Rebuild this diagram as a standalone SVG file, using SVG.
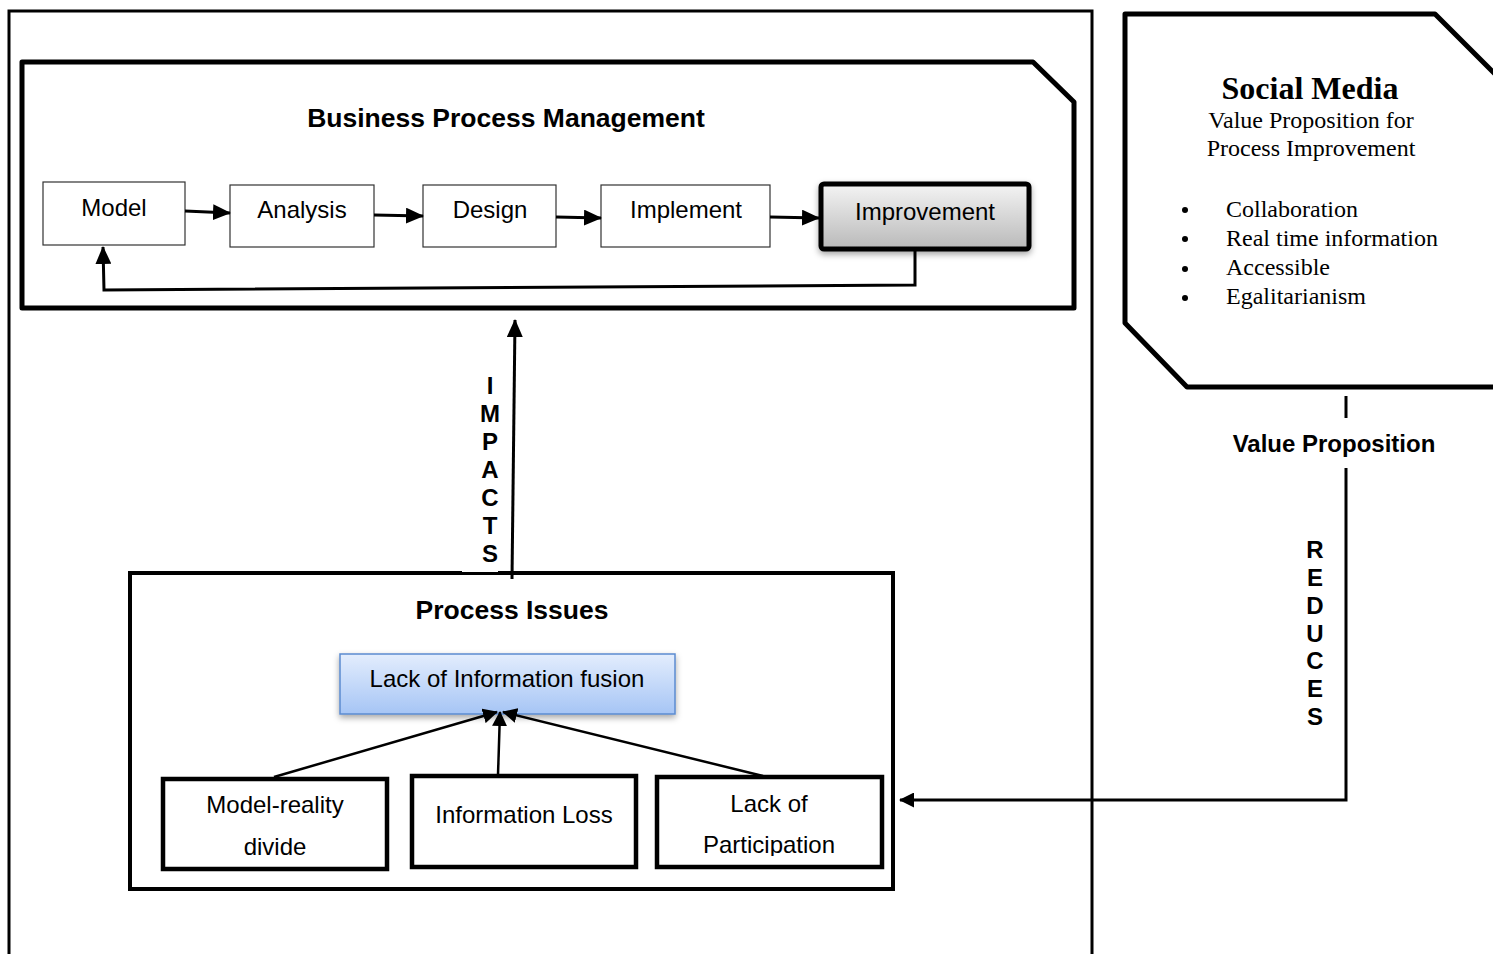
<svg xmlns="http://www.w3.org/2000/svg" width="1493" height="954" viewBox="0 0 1493 954">
  <style>
    .sans { font-family: "Liberation Sans", Arial, sans-serif; fill: #000; }
    .serif { font-family: "Liberation Serif", "Times New Roman", serif; fill: #000; }
    .title { font-size: 26.5px; font-weight: bold; text-anchor: middle; }
    .step { font-size: 24px; text-anchor: middle; }
    .issue { font-size: 24px; text-anchor: middle; }
    .vlet { font-size: 24px; font-weight: bold; text-anchor: middle; }
    .thin { fill: #fff; stroke: #333; stroke-width: 1.2; }
    .thick { fill: #fff; stroke: #000; stroke-width: 4.5; }
    .conn { fill: none; stroke: #000; stroke-width: 3; }
    .conn2 { fill: none; stroke: #000; stroke-width: 2.5; }
    .frame { fill: none; stroke: #000; stroke-width: 3; }
  </style>
  <defs>
    <marker id="head" markerUnits="userSpaceOnUse" markerWidth="18" markerHeight="16" viewBox="0 0 18 16" refX="17" refY="8" orient="auto">
      <path d="M0,0 L18,8 L0,16 z" fill="#000"/>
    </marker>
    <marker id="headS" markerUnits="userSpaceOnUse" markerWidth="15" markerHeight="15" viewBox="0 0 15 15" refX="14" refY="7.5" orient="auto">
      <path d="M0,0 L15,7.5 L0,15 z" fill="#000"/>
    </marker>
    <linearGradient id="grayGrad" x1="0" y1="0" x2="0" y2="1">
      <stop offset="0" stop-color="#f4f4f4"/>
      <stop offset="1" stop-color="#b9b9b9"/>
    </linearGradient>
    <linearGradient id="blueGrad" x1="0" y1="0" x2="0" y2="1">
      <stop offset="0" stop-color="#e3edfd"/>
      <stop offset="1" stop-color="#a6c5f5"/>
    </linearGradient>
    <filter id="shadow" x="-10%" y="-20%" width="120%" height="150%">
      <feDropShadow dx="0" dy="3" stdDeviation="3" flood-color="#000" flood-opacity="0.35"/>
    </filter>
    <clipPath id="partClip">
      <rect x="657" y="777" width="225" height="79"/>
    </clipPath>
  </defs>

  <rect width="1493" height="954" fill="#fff"/>

  <!-- outer frame around BPM and issues -->
  <path class="frame" d="M9,960 L9,11 L1092,11 L1092,960"/>

  <!-- Business Process Management panel -->
  <g id="bpm">
    <path d="M22,62 L1033,62 L1074,102 L1074,308 L22,308 Z" fill="#fff" stroke="#000" stroke-width="5" stroke-linejoin="round"/>
    <text class="sans title" x="506" y="127">Business Process Management</text>
  </g>

  <g id="model">
    <rect class="thin" x="43" y="182" width="142" height="63"/>
    <text class="sans step" x="114" y="216">Model</text>
  </g>
  <g id="analysis">
    <rect class="thin" x="230" y="185" width="144" height="62"/>
    <text class="sans step" x="302" y="218">Analysis</text>
  </g>
  <g id="design">
    <rect class="thin" x="423" y="185" width="133" height="62"/>
    <text class="sans step" x="490" y="218">Design</text>
  </g>
  <g id="implement">
    <rect class="thin" x="601" y="185" width="169" height="62"/>
    <text class="sans step" x="686" y="218">Implement</text>
  </g>
  <g id="improvement">
    <rect x="821" y="184" width="208" height="65" rx="3" fill="url(#grayGrad)" stroke="#000" stroke-width="5" filter="url(#shadow)"/>
    <text class="sans step" x="925" y="220">Improvement</text>
  </g>

  <!-- Process Issues panel -->
  <g id="issues">
    <rect x="130" y="573" width="763" height="316" fill="#fff" stroke="#000" stroke-width="4"/>
    <rect x="462" y="567" width="36" height="5" fill="#fff"/>
    <text class="sans title" x="512" y="619">Process Issues</text>
  </g>

  <g id="fusion">
    <rect x="340" y="654" width="335" height="60" fill="url(#blueGrad)" stroke="#5b8bd0" stroke-width="1.5" filter="url(#shadow)"/>
    <text class="sans issue" x="507" y="687">Lack of Information fusion</text>
  </g>

  <g id="divide">
    <rect class="thick" x="163" y="779" width="224" height="90"/>
    <text class="sans issue" x="275" y="813">Model-reality</text>
    <text class="sans issue" x="275" y="855">divide</text>
  </g>
  <g id="loss">
    <rect class="thick" x="412" y="776" width="224" height="91"/>
    <text class="sans issue" x="524" y="823">Information Loss</text>
  </g>
  <g id="participation">
    <rect class="thick" x="657" y="777" width="225" height="90"/>
    <text class="sans issue" x="769" y="812">Lack of</text>
    <text class="sans issue" x="769" y="853" clip-path="url(#partClip)">Participation</text>
  </g>

  <!-- Social Media panel -->
  <g id="social">
    <path d="M1125,14 L1435,14 L1530,109 L1530,387 L1187,387 L1125,323 Z" fill="#fff" stroke="#000" stroke-width="5" stroke-linejoin="round"/>
    <text class="serif" x="1310" y="99" font-size="32" font-weight="bold" text-anchor="middle">Social Media</text>
    <text class="serif" x="1311" y="128" font-size="24" text-anchor="middle">Value Proposition for</text>
    <text class="serif" x="1311" y="156" font-size="24" text-anchor="middle">Process Improvement</text>
    <g class="serif" font-size="24">
      <circle cx="1185" cy="210" r="3"/>
      <circle cx="1185" cy="239" r="3"/>
      <circle cx="1185" cy="269" r="3"/>
      <circle cx="1185" cy="298" r="3"/>
      <text x="1226" y="217">Collaboration</text>
      <text x="1226" y="246">Real time information</text>
      <text x="1226" y="275">Accessible</text>
      <text x="1226" y="304">Egalitarianism</text>
    </g>
  </g>

  <!-- connectors -->
  <g id="connectors">
    <line class="conn" x1="185" y1="211" x2="230" y2="213" marker-end="url(#head)"/>
    <line class="conn" x1="374" y1="215" x2="423" y2="216" marker-end="url(#head)"/>
    <line class="conn" x1="556" y1="217" x2="601" y2="218" marker-end="url(#head)"/>
    <line class="conn" x1="770" y1="217" x2="819" y2="218" marker-end="url(#head)"/>
    <path class="conn" d="M915,250 L915,285 L104,290 L103,247" marker-end="url(#head)"/>

    <line class="conn" x1="512" y1="579" x2="515" y2="320" marker-end="url(#head)"/>

    <line class="conn2" x1="274" y1="777" x2="497" y2="712" marker-end="url(#headS)"/>
    <line class="conn2" x1="498" y1="775" x2="500" y2="712" marker-end="url(#headS)"/>
    <line class="conn2" x1="763" y1="776" x2="503" y2="712" marker-end="url(#headS)"/>

    <line class="conn" x1="1346" y1="396" x2="1346" y2="418"/>
    <path class="conn" d="M1346,468 L1346,800 L900,800" marker-end="url(#headS)"/>
  </g>

  <!-- connector labels -->
  <g id="labels" class="sans vlet">
    <text x="490" y="394">I</text>
    <text x="490" y="422">M</text>
    <text x="490" y="450">P</text>
    <text x="490" y="478">A</text>
    <text x="490" y="506">C</text>
    <text x="490" y="534">T</text>
    <text x="490" y="562">S</text>

    <text x="1315" y="558">R</text>
    <text x="1315" y="586">E</text>
    <text x="1315" y="614">D</text>
    <text x="1315" y="642">U</text>
    <text x="1315" y="669">C</text>
    <text x="1315" y="697">E</text>
    <text x="1315" y="725">S</text>

    <text x="1334" y="452" font-size="24">Value Proposition</text>
  </g>
</svg>
